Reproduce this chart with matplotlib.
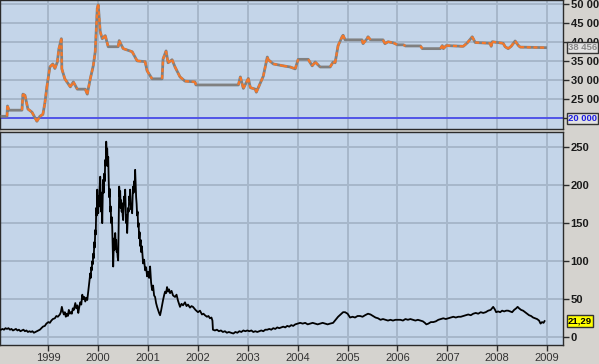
import matplotlib
matplotlib.use('Agg')
import matplotlib.pyplot as plt
from matplotlib import font_manager
import numpy as np

# ---------------- data ----------------
top_years = [1998.07, 1998.17, 1998.18, 1998.21, 1998.47, 1998.49, 1998.53, 1998.59, 1998.67, 1998.77,
             1998.83, 1998.89, 1998.93, 1998.97, 1999.03, 1999.09, 1999.13, 1999.18, 1999.21, 1999.26,
             1999.27, 1999.33, 1999.44, 1999.50, 1999.58, 1999.74, 1999.78, 1999.84, 1999.90, 1999.94,
             1999.98, 2000.00, 2000.04, 2000.08, 2000.14, 2000.20, 2000.40, 2000.42, 2000.50, 2000.68,
             2000.78, 2000.94, 2000.98, 2001.08, 2001.28, 2001.30, 2001.36, 2001.40, 2001.48, 2001.54,
             2001.64, 2001.74, 2001.94, 2001.96, 2002.81, 2002.85, 2002.91, 2003.01, 2003.05, 2003.15,
             2003.17, 2003.21, 2003.31, 2003.39, 2003.41, 2003.51, 2003.71, 2003.85, 2003.95, 2004.01,
             2004.21, 2004.29, 2004.35, 2004.45, 2004.65, 2004.71, 2004.75, 2004.81, 2004.89, 2004.91,
             2004.95, 2005.29, 2005.31, 2005.39, 2005.41, 2005.46, 2005.71, 2005.75, 2005.81, 2005.92,
             2006.00, 2006.12, 2006.16, 2006.46, 2006.50, 2006.86, 2006.90, 2006.92, 2006.98, 2007.32,
             2007.40, 2007.50, 2007.56, 2007.86, 2007.88, 2007.90, 2008.12, 2008.16, 2008.22, 2008.28,
             2008.36, 2008.42, 2008.46, 2008.97]
top_values = [20500, 20500, 23200, 22100, 22100, 26300, 26000, 22400, 21600, 19200,
              20500, 21000, 24000, 28200, 33400, 34200, 33000, 34700, 38100, 40800,
              32900, 30300, 28200, 29500, 27600, 27600, 26300, 30300, 33700, 37400,
              48700, 49700, 42600, 40800, 41600, 38700, 38700, 40300, 38200, 37400,
              35000, 34800, 32400, 30300, 30300, 35500, 37600, 34500, 35300, 33400,
              30800, 29700, 29500, 28700, 28700, 30800, 27800, 30400, 28000, 27600,
              26800, 28000, 31000, 36000, 35300, 34200, 33700, 33400, 32900, 35400,
              35400, 33700, 34700, 33400, 33400, 34700, 34500, 39000, 41300, 41700,
              40500, 40500, 39500, 40800, 41300, 40500, 40500, 39500, 40000, 39700,
              39200, 39200, 38900, 38900, 38200, 38200, 39000, 38200, 39000, 38800,
              39700, 41300, 39800, 39600, 38800, 40000, 39600, 38700, 38200, 38800,
              40200, 39100, 38600, 38456]

bottom_years = [
    1998.05, 1998.08, 1998.11, 1998.14, 1998.17, 1998.20, 1998.23, 1998.26, 1998.29, 1998.32,
    1998.35, 1998.38, 1998.41, 1998.44, 1998.47, 1998.50, 1998.53, 1998.56, 1998.59, 1998.62,
    1998.65, 1998.68, 1998.71, 1998.74, 1998.77, 1998.80, 1998.83, 1998.86, 1998.89, 1998.93,
    1998.96, 1999.00, 1999.03, 1999.06, 1999.09, 1999.13, 1999.16, 1999.19, 1999.23, 1999.25,
    1999.27, 1999.29, 1999.31, 1999.33, 1999.35, 1999.37, 1999.39, 1999.41, 1999.43, 1999.45,
    1999.47, 1999.49, 1999.51, 1999.54, 1999.56, 1999.58, 1999.60, 1999.62, 1999.64, 1999.66,
    1999.68, 1999.70, 1999.72, 1999.74, 1999.76, 1999.78, 1999.80, 1999.82, 1999.84, 1999.85,
    1999.86, 1999.87, 1999.88, 1999.89, 1999.90, 1999.91, 1999.92, 1999.93, 1999.94, 1999.95,
    1999.96, 1999.97, 1999.98, 1999.99, 2000.00, 2000.01, 2000.02, 2000.03, 2000.04, 2000.05,
    2000.06, 2000.07, 2000.08, 2000.09, 2000.10, 2000.11, 2000.12, 2000.13, 2000.14, 2000.15,
    2000.16, 2000.17, 2000.18, 2000.19, 2000.20, 2000.21, 2000.22, 2000.23, 2000.24, 2000.25,
    2000.26, 2000.27, 2000.28, 2000.29, 2000.30, 2000.31, 2000.32, 2000.33, 2000.34, 2000.35,
    2000.36, 2000.37, 2000.38, 2000.39, 2000.40, 2000.41, 2000.42, 2000.43, 2000.44, 2000.45,
    2000.46, 2000.47, 2000.48, 2000.49, 2000.50, 2000.51, 2000.52, 2000.53, 2000.54, 2000.55,
    2000.56, 2000.57, 2000.58, 2000.59, 2000.60, 2000.61, 2000.62, 2000.63, 2000.64, 2000.65,
    2000.66, 2000.67, 2000.68, 2000.69, 2000.70, 2000.71, 2000.72, 2000.73, 2000.74, 2000.75,
    2000.76, 2000.77, 2000.78, 2000.79, 2000.80, 2000.81, 2000.82, 2000.83, 2000.84, 2000.85,
    2000.86, 2000.87, 2000.88, 2000.89, 2000.90, 2000.92, 2000.94, 2000.96, 2000.98, 2001.00,
    2001.02, 2001.04, 2001.06, 2001.08, 2001.10, 2001.12, 2001.14, 2001.16, 2001.18, 2001.20,
    2001.22, 2001.24, 2001.26, 2001.28, 2001.30, 2001.32, 2001.34, 2001.36, 2001.38, 2001.40,
    2001.42, 2001.44, 2001.47, 2001.50, 2001.54, 2001.57, 2001.60, 2001.64, 2001.67, 2001.70,
    2001.74, 2001.77, 2001.80, 2001.84, 2001.87, 2001.90, 2001.95, 2002.00, 2002.04, 2002.08,
    2002.11, 2002.14, 2002.18, 2002.21, 2002.24, 2002.27, 2002.29, 2002.30, 2002.34, 2002.38,
    2002.42, 2002.46, 2002.50, 2002.54, 2002.58, 2002.62, 2002.66, 2002.71, 2002.75, 2002.79,
    2002.83, 2002.87, 2002.91, 2002.95, 2002.99, 2003.03, 2003.07, 2003.11, 2003.15, 2003.19,
    2003.23, 2003.27, 2003.31, 2003.35, 2003.39, 2003.43, 2003.47, 2003.51, 2003.55, 2003.59,
    2003.63, 2003.67, 2003.71, 2003.75, 2003.79, 2003.83, 2003.87, 2003.91, 2003.95, 2004.00,
    2004.05, 2004.10, 2004.15, 2004.20, 2004.25, 2004.30, 2004.35, 2004.40, 2004.45, 2004.50,
    2004.55, 2004.60, 2004.65, 2004.71, 2004.76, 2004.81, 2004.86, 2004.91, 2004.95, 2005.00,
    2005.05, 2005.10, 2005.15, 2005.20, 2005.25, 2005.30, 2005.35, 2005.41, 2005.46, 2005.51,
    2005.56, 2005.61, 2005.66, 2005.71, 2005.76, 2005.81, 2005.86, 2005.91, 2005.96, 2006.01,
    2006.06, 2006.11, 2006.16, 2006.21, 2006.26, 2006.31, 2006.36, 2006.41, 2006.46, 2006.51,
    2006.55, 2006.58, 2006.62, 2006.67, 2006.72, 2006.77, 2006.82, 2006.87, 2006.92, 2006.97,
    2007.02, 2007.07, 2007.12, 2007.17, 2007.22, 2007.27, 2007.32, 2007.37, 2007.42, 2007.47,
    2007.52, 2007.57, 2007.62, 2007.67, 2007.72, 2007.77, 2007.82, 2007.87, 2007.92, 2007.95,
    2007.98, 2008.02, 2008.06, 2008.10, 2008.14, 2008.18, 2008.22, 2008.26, 2008.30, 2008.34,
    2008.38, 2008.41, 2008.44, 2008.48, 2008.52, 2008.56, 2008.60, 2008.64, 2008.68, 2008.72,
    2008.76, 2008.80, 2008.84, 2008.87, 2008.90, 2008.93, 2008.95]
bottom_values = [
    10, 11, 10, 12, 11, 12, 10, 11, 9, 10,
    11, 9, 10, 8, 9, 10, 8, 9, 7, 8,
    7, 8, 6, 7, 8, 9, 10, 12, 14, 15,
    18, 20, 19, 22, 24, 25, 28, 27, 30, 33,
    40, 34, 30, 33, 27, 31, 28, 36, 31, 33,
    31, 38, 36, 45, 38, 42, 32, 40, 46, 43,
    56, 50, 53, 47, 52, 49, 60, 72, 84, 78,
    92, 88, 100, 96, 110, 104, 125, 118, 141, 135,
    170, 160, 194, 175, 163, 185, 172, 200, 211, 180,
    165, 190, 150, 185, 207, 190, 215, 205, 233, 225,
    257, 240, 248, 225, 237, 205, 184, 195, 165, 172,
    150, 158, 145, 120, 93, 118, 130, 115, 137, 125,
    128, 112, 115, 105, 101, 150, 198, 185, 192, 170,
    180, 165, 176, 160, 154, 170, 185, 175, 194, 170,
    150, 160, 137, 155, 170, 165, 185, 180, 194, 175,
    168, 175, 163, 185, 198, 190, 205, 195, 220, 200,
    184, 175, 160, 165, 145, 150, 130, 138, 120, 128,
    112, 120, 115, 105, 97, 102, 88, 92, 80, 86,
    78, 93, 72, 62, 68, 55, 53, 45, 40, 36,
    32, 29, 35, 42, 49, 55, 60, 58, 66, 60,
    63, 58, 61, 55, 53, 56, 48, 40, 44, 42,
    46, 41, 43, 39, 41, 40, 36, 33, 35, 30,
    31, 29, 27, 28, 25, 26, 22, 10, 9, 10,
    8, 9, 7, 8, 6, 7, 6, 5, 7, 6,
    8, 7, 9, 8, 9, 8, 9, 7, 8, 7,
    8, 9, 8, 10, 10, 11, 10, 12, 11, 13,
    12, 13, 14, 13, 15, 14, 16, 15, 17, 18,
    19, 18, 19, 17, 18, 19, 18, 17, 18, 19,
    18, 17, 18, 19, 23, 27, 30, 33, 33, 31,
    26, 27, 26, 28, 28, 27, 29, 31, 30, 28,
    26, 25, 23, 24, 23, 22, 23, 22, 23, 23,
    23, 22, 24, 23, 24, 23, 22, 23, 22, 21,
    19, 17, 18, 20, 20, 21, 23, 24, 25, 24,
    25, 26, 27, 26, 27, 27, 28, 29, 30, 29,
    31, 32, 31, 33, 32, 33, 35, 36, 40, 37,
    33, 34, 33, 35, 34, 35, 35, 34, 33, 36,
    38, 40, 38, 36, 35, 33, 31, 29, 28, 26,
    25, 24, 22, 18, 20, 19, 21.29]

year_ticks = list(range(1999, 2010))
top_ticks = [20000, 25000, 30000, 35000, 40000, 45000, 50000]
bottom_ticks = [0, 50, 100, 150, 200, 250]
ref_level = 20000
last_top = 38456
last_bottom = 21.29

# ---------------- style ----------------
fig_bg = '#d5d3cf'
ax_bg = '#c4d5e9'
grid_c = '#a7b7ca'
spine_c = '#2b2b2b'

# narrow face for the value boxes if available
try:
    font_manager.findfont('Liberation Sans Narrow', fallback_to_default=False)
    box_family, box_size = ['Liberation Sans Narrow', 'Liberation Sans'], 8
except Exception:
    box_family, box_size = ['Liberation Sans'], 6.8

fig = plt.figure(figsize=(5.99, 3.64), dpi=100, facecolor=fig_bg)
W, H = 599.0, 364.0
ax1 = fig.add_axes([0.0, 1 - 129 / H, 563 / W, 129 / H])
ax2 = fig.add_axes([0.0, 1 - 345 / H, 563 / W, (345 - 132) / H])

xlim = (1998.03, 2009.32)
for ax in (ax1, ax2):
    ax.set_facecolor(ax_bg)
    ax.set_xlim(*xlim)
    ax.set_xticks(year_ticks)
    ax.grid(True, color=grid_c, linewidth=1.4)
    ax.set_axisbelow(True)
    for s in ax.spines.values():
        s.set_color(spine_c)
        s.set_linewidth(1.0)
    ax.yaxis.tick_right()
    ax.tick_params(axis='y', which='both', direction='out', length=4, width=1,
                   color=spine_c, pad=1.5, labelsize=8, labelcolor='#1a1a1a')
    ax.tick_params(axis='x', which='both', direction='out', length=4, width=1,
                   color=spine_c, pad=2, labelsize=8, labelcolor='#333333')

# ---------- top panel ----------
ax1.set_ylim(17180, 50920)
ax1.set_yticks(top_ticks)
ax1.set_yticklabels([f"{t:,}".replace(",", " ") for t in top_ticks], fontweight='bold',
                    family='Liberation Sans')
ax1.tick_params(axis='x', labelbottom=False, length=0)
ax1.axhline(ref_level, color='#3a3af0', linewidth=1.1, zorder=2)

tx = np.array(top_years)
ty = np.array(top_values, dtype=float)
ax1.plot(tx, ty, color='#808080', linewidth=2.0, zorder=3)
# orange highlights on the segments where the level moves
for i in range(len(tx) - 1):
    if ty[i] != ty[i + 1]:
        ax1.plot(tx[i:i + 2], ty[i:i + 2], color='#f5782a', linewidth=1.6, zorder=4,
                 dashes=(1.8, 1.2))

box_kw = dict(boxstyle='square,pad=0.12', ec='#333333', lw=1)
ax1.text(1.009, last_top, f"{last_top:,}".replace(",", " "), transform=ax1.get_yaxis_transform(),
         va='center', ha='left', fontsize=box_size, color='#8a8a8a', family=box_family,
         fontweight='bold', clip_on=False, zorder=10, bbox=dict(fc='#e2e2e2', **box_kw))
ax1.text(1.009, ref_level, f"{ref_level:,}".replace(",", " "), transform=ax1.get_yaxis_transform(),
         va='center', ha='left', fontsize=box_size, color='#2020e0', family=box_family,
         fontweight='bold', clip_on=False, zorder=10, bbox=dict(fc='#e2e2e2', **box_kw))

# ---------- bottom panel ----------
ax2.set_ylim(-10.1, 269.7)
ax2.set_yticks(bottom_ticks)
ax2.set_yticklabels([str(t) for t in bottom_ticks], fontweight='bold', family='Liberation Sans')
ax2.set_xticklabels([str(y) for y in year_ticks], family='Liberation Sans')
ax2.plot(bottom_years, bottom_values, color='#000000', linewidth=1.3, zorder=3)
ax2.text(1.009, last_bottom, f"{last_bottom:.2f}".replace(".", ","),
         transform=ax2.get_yaxis_transform(), va='center', ha='left', fontsize=box_size,
         color='#000000', family=box_family, fontweight='bold', clip_on=False, zorder=10,
         bbox=dict(fc='#ffff00', **box_kw))

fig.savefig('out.png', dpi=100, facecolor=fig_bg)
